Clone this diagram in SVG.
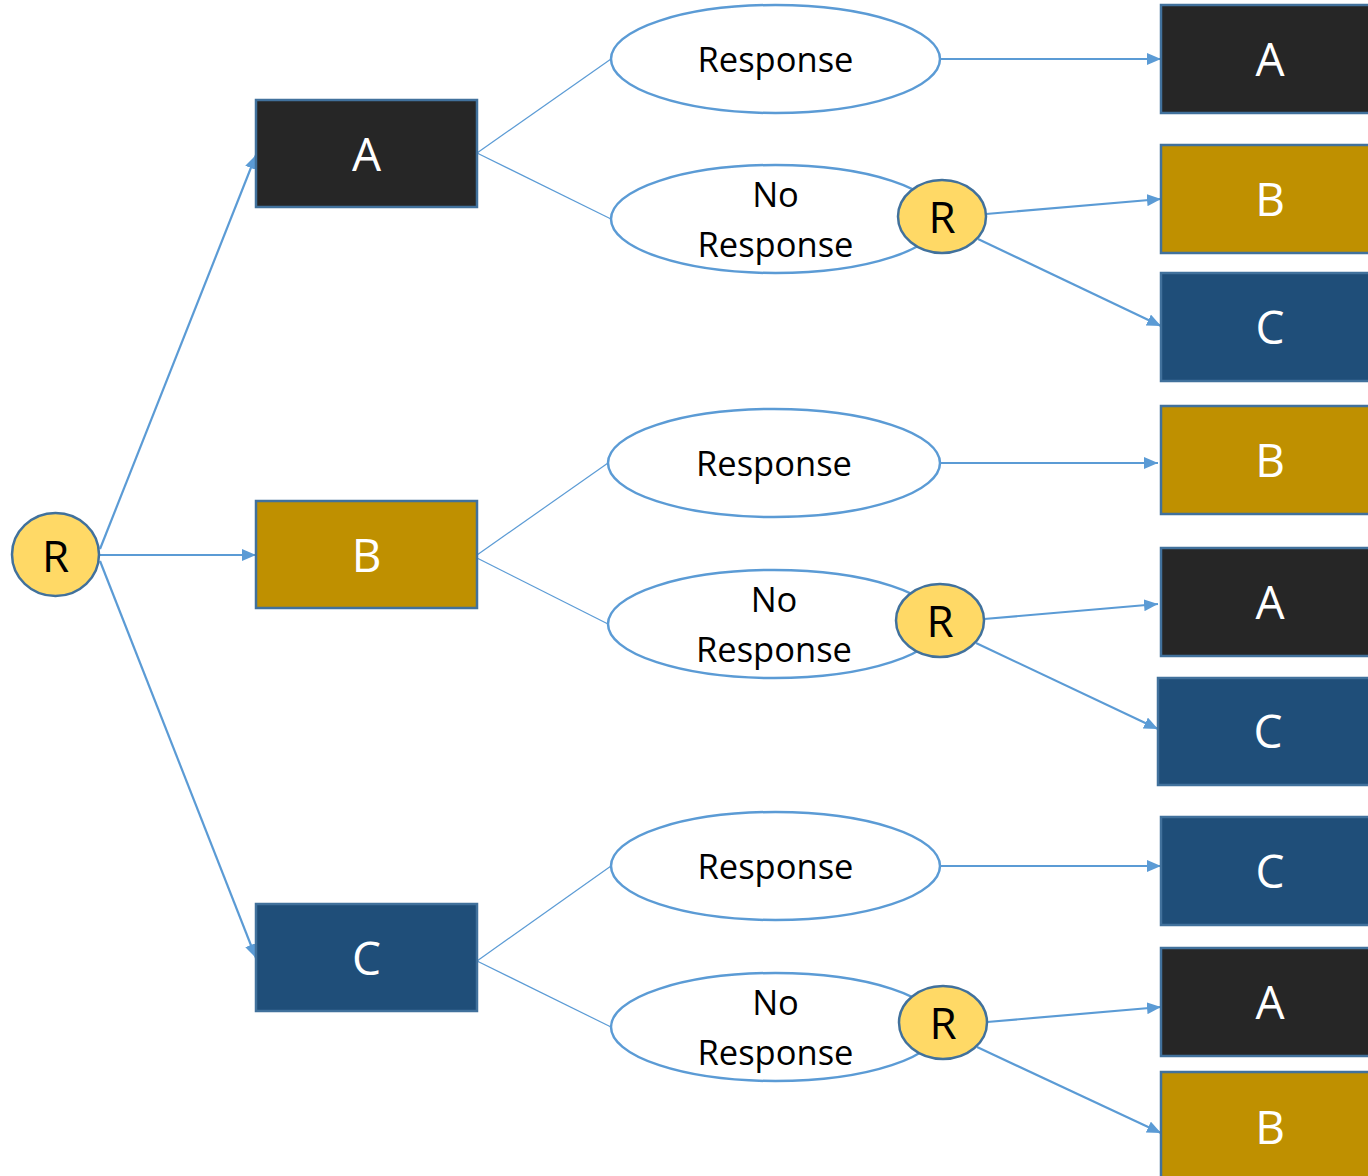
<svg xmlns="http://www.w3.org/2000/svg" width="1368" height="1176" viewBox="0 0 1368 1176">
<style>
.bk{fill:#262626;stroke:#41719C;stroke-width:2.5}
.gd{fill:#BF9000;stroke:#41719C;stroke-width:2.5}
.nv{fill:#1F4E79;stroke:#41719C;stroke-width:2.5}
.rc{fill:#FFD966;stroke:#41719C;stroke-width:2.5}
.el{fill:#FFFFFF;stroke:#5B9BD5;stroke-width:2.5}
.bt{font-family:"Open Sans","Liberation Sans",sans-serif;font-size:46px;fill:#FFFFFF;text-anchor:middle}
.rt{font-family:"Open Sans","Liberation Sans",sans-serif;font-size:44px;fill:#000000;text-anchor:middle}
.et{font-family:"Open Sans","Liberation Sans",sans-serif;font-size:34.5px;fill:#000000;text-anchor:middle}
.ar{stroke:#5B9BD5;stroke-width:2.2;fill:none;marker-end:url(#ah)}
.tl{stroke:#5B9BD5;stroke-width:1.2;fill:none}
</style>
<defs>
<marker id="ah" markerUnits="userSpaceOnUse" markerWidth="14" markerHeight="12" refX="14" refY="6" orient="auto">
<path d="M0,0 L14,6 L0,12 z" fill="#5B9BD5"/>
</marker>
</defs>
<g id="connectors">
<line class="ar" x1="100" y1="549" x2="256" y2="155"/>
<line class="ar" x1="100" y1="555" x2="256" y2="555"/>
<line class="ar" x1="100" y1="561" x2="256" y2="958"/>
<line class="tl" x1="477" y1="153" x2="611" y2="59"/>
<line class="tl" x1="477" y1="153" x2="611" y2="219"/>
<line class="tl" x1="477" y1="555" x2="608" y2="463"/>
<line class="tl" x1="477" y1="558" x2="608" y2="624"/>
<line class="tl" x1="477" y1="961" x2="611" y2="866"/>
<line class="tl" x1="477" y1="961" x2="611" y2="1027"/>
<line class="ar" x1="940" y1="59" x2="1161" y2="59"/>
<line class="ar" x1="986" y1="214" x2="1161" y2="199"/>
<line class="ar" x1="978" y1="239" x2="1161" y2="326"/>
<line class="ar" x1="940" y1="463" x2="1158" y2="463"/>
<line class="ar" x1="984" y1="619" x2="1158" y2="604"/>
<line class="ar" x1="976" y1="643" x2="1158" y2="729"/>
<line class="ar" x1="940" y1="866" x2="1161" y2="866"/>
<line class="ar" x1="987" y1="1022" x2="1161" y2="1007"/>
<line class="ar" x1="977" y1="1047" x2="1161" y2="1133"/>
</g>
<g id="root"><ellipse class="rc" cx="55.5" cy="554.5" rx="43.5" ry="41.5"/><text class="rt" x="55.5" y="572">R</text></g>
<g id="boxA"><rect class="bk" x="256" y="100" width="221" height="107"/><text class="bt" x="366.5" y="171">A</text></g>
<g id="boxB"><rect class="gd" x="256" y="501" width="221" height="107"/><text class="bt" x="366.5" y="572">B</text></g>
<g id="boxC"><rect class="nv" x="256" y="904" width="221" height="107"/><text class="bt" x="366.5" y="975">C</text></g>
<g id="respA"><ellipse class="el" cx="775.5" cy="59" rx="164.5" ry="54"/><text class="et" x="775.5" y="72">Response</text></g>
<g id="noRespA"><ellipse class="el" cx="775.5" cy="219" rx="164.5" ry="54"/><text class="et" x="775.5" y="207">No</text><text class="et" x="775.5" y="257">Response</text></g>
<g id="rA"><ellipse class="rc" cx="942" cy="216.5" rx="44" ry="36.5"/><text class="rt" x="942" y="233">R</text></g>
<g id="respB"><ellipse class="el" cx="774" cy="463" rx="166" ry="54"/><text class="et" x="774" y="476">Response</text></g>
<g id="noRespB"><ellipse class="el" cx="774" cy="624" rx="166" ry="54"/><text class="et" x="774" y="612">No</text><text class="et" x="774" y="662">Response</text></g>
<g id="rB"><ellipse class="rc" cx="940" cy="620.5" rx="44" ry="36.5"/><text class="rt" x="940" y="637">R</text></g>
<g id="respC"><ellipse class="el" cx="775.5" cy="866" rx="164.5" ry="54"/><text class="et" x="775.5" y="879">Response</text></g>
<g id="noRespC"><ellipse class="el" cx="775.5" cy="1027" rx="164.5" ry="54"/><text class="et" x="775.5" y="1015">No</text><text class="et" x="775.5" y="1065">Response</text></g>
<g id="rC"><ellipse class="rc" cx="943" cy="1022.5" rx="44" ry="36.5"/><text class="rt" x="943" y="1039">R</text></g>
<g id="outA1"><rect class="bk" x="1161" y="5" width="218" height="108"/><text class="bt" x="1270" y="76">A</text></g>
<g id="outB1"><rect class="gd" x="1161" y="145" width="218" height="108"/><text class="bt" x="1270" y="216">B</text></g>
<g id="outC1"><rect class="nv" x="1161" y="273" width="218" height="108"/><text class="bt" x="1270" y="344">C</text></g>
<g id="outB2"><rect class="gd" x="1161" y="406" width="218" height="108"/><text class="bt" x="1270" y="477">B</text></g>
<g id="outA2"><rect class="bk" x="1161" y="548" width="218" height="108"/><text class="bt" x="1270" y="619">A</text></g>
<g id="outC2"><rect class="nv" x="1158" y="678" width="221" height="107"/><text class="bt" x="1268" y="748">C</text></g>
<g id="outC3"><rect class="nv" x="1161" y="817" width="218" height="108"/><text class="bt" x="1270" y="888">C</text></g>
<g id="outA3"><rect class="bk" x="1161" y="948" width="218" height="108"/><text class="bt" x="1270" y="1019">A</text></g>
<g id="outB3"><rect class="gd" x="1161" y="1072" width="218" height="110"/><text class="bt" x="1270" y="1144">B</text></g>
</svg>
